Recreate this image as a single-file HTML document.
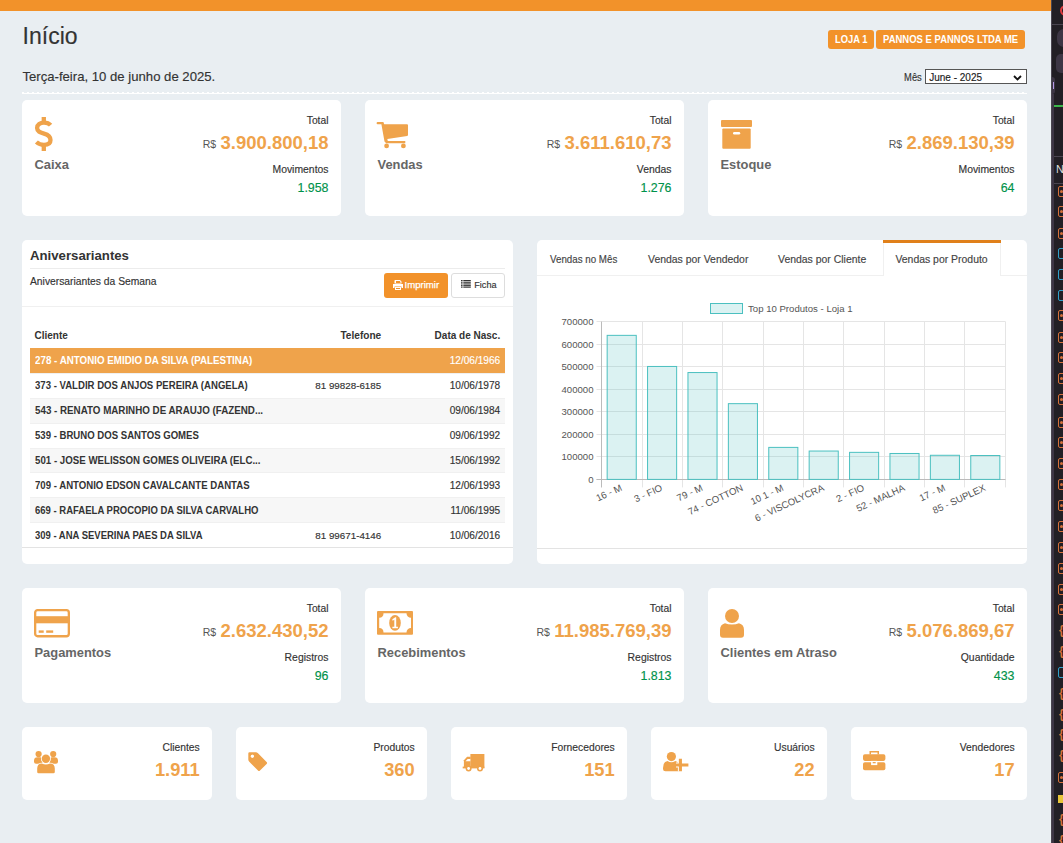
<!DOCTYPE html>
<html><head><meta charset="utf-8"><title>Início</title>
<style>
html,body{margin:0;padding:0;}
body{width:1063px;height:843px;position:relative;overflow:hidden;background:#e9eef2;font-family:"Liberation Sans",sans-serif;}
.t{position:absolute;white-space:nowrap;line-height:1;}
.r{position:absolute;}
</style></head><body>
<div class="r" style="left:0px;top:0px;width:1051px;height:11px;background:#f2922a;"></div>
<div class="t" style="left:22.60px;top:25.33px;font-size:23px;font-weight:400;color:#333;-webkit-text-stroke:0.15px currentColor;">Início</div>
<div class="r" style="left:828px;top:30px;width:46px;height:19px;background:#f2922a;border-radius:3px;"></div>
<div class="r" style="left:876px;top:30px;width:149px;height:19px;background:#f2922a;border-radius:3px;"></div>
<div class="t" style="left:834.60px;top:35.28px;font-size:10.3px;font-weight:700;color:#fff;transform:scaleX(0.91);transform-origin:left center;">LOJA 1</div>
<div class="t" style="left:882.70px;top:35.28px;font-size:10.3px;font-weight:700;color:#fff;transform:scaleX(0.922);transform-origin:left center;">PANNOS E PANNOS LTDA ME</div>
<div class="t" style="left:22.40px;top:70.17px;font-size:13.15px;font-weight:400;color:#333;-webkit-text-stroke:0.15px currentColor;">Terça-feira, 10 de junho de 2025.</div>
<div class="t" style="right:140.90px;top:71.59px;font-size:11px;font-weight:400;color:#333;-webkit-text-stroke:0.15px currentColor;transform:scaleX(0.85);transform-origin:right center;">Mês</div>
<div class="r" style="left:925px;top:69px;width:100px;height:13px;border:1px solid #555;background:#fff"></div>
<div class="t" style="left:929.20px;top:72.63px;font-size:10px;font-weight:400;color:#222;-webkit-text-stroke:0.15px currentColor;">June - 2025</div>
<svg class="r" style="left:1013px;top:75px;overflow:visible" width="9" height="6" viewBox="0 0 9 6"><path d="M1 1 L4.5 4.5 L8 1" fill="none" stroke="#111" stroke-width="1.8"/></svg>
<div class="r" style="left:22px;top:92px;width:1005px;height:1px;background:repeating-linear-gradient(90deg,#fff 0 2px,transparent 2px 5px)"></div>
<div class="r" style="left:22px;top:93px;width:1005px;height:1px;background:#fff;"></div>
<div class="r" style="left:22px;top:100px;width:319px;height:116px;background:#fff;border-radius:5px;"></div>
<div class="t" style="right:734.50px;top:115.68px;font-size:10.3px;font-weight:400;color:#333;-webkit-text-stroke:0.15px currentColor;">Total</div>
<div class="t" style="right:734.50px;top:134.44px;font-size:18.5px;font-weight:700;color:#efa34b"><span style="font-size:10.5px;font-weight:400;color:#555;position:absolute;right:100%;margin-right:4.3px;bottom:3.2px">R$</span>3.900.800,18</div>
<div class="t" style="right:734.50px;top:164.50px;font-size:10.4px;font-weight:400;color:#333;-webkit-text-stroke:0.15px currentColor;">Movimentos</div>
<div class="t" style="right:734.50px;top:181.50px;font-size:12.4px;font-weight:400;color:#00924a;-webkit-text-stroke:0.15px currentColor;">1.958</div>
<div class="t" style="left:34.50px;top:159.48px;font-size:12.9px;font-weight:700;color:#666;">Caixa</div>
<svg class="r" style="left:35px;top:117px;overflow:visible" width="18" height="34" viewBox="0 0 18 34"><g fill="none" stroke="#efa34b" stroke-width="4.3"><path d="M15.6 8.2 C14.2 6.5 12 5.6 9 5.6 C5.2 5.6 2.1 7.5 2.1 11 C2.1 14.5 5 15.5 9 16.6 C13 17.7 15.5 19.2 15.5 23 C15.5 26.6 12.6 27.9 9 27.9 C5.8 27.9 3.3 26.8 1.4 25"/><path d="M8.8 0 V5.5 M8.8 28 V34"/></g></svg>
<div class="r" style="left:365px;top:100px;width:319px;height:116px;background:#fff;border-radius:5px;"></div>
<div class="t" style="right:391.50px;top:115.68px;font-size:10.3px;font-weight:400;color:#333;-webkit-text-stroke:0.15px currentColor;">Total</div>
<div class="t" style="right:391.50px;top:134.44px;font-size:18.5px;font-weight:700;color:#efa34b"><span style="font-size:10.5px;font-weight:400;color:#555;position:absolute;right:100%;margin-right:4.3px;bottom:3.2px">R$</span>3.611.610,73</div>
<div class="t" style="right:391.50px;top:164.50px;font-size:10.4px;font-weight:400;color:#333;-webkit-text-stroke:0.15px currentColor;">Vendas</div>
<div class="t" style="right:391.50px;top:181.50px;font-size:12.4px;font-weight:400;color:#00924a;-webkit-text-stroke:0.15px currentColor;">1.276</div>
<div class="t" style="left:377.50px;top:159.48px;font-size:12.9px;font-weight:700;color:#666;">Vendas</div>
<svg class="r" style="left:377px;top:122px;overflow:visible" width="31" height="26" viewBox="0 0 31 26"><g fill="#efa34b"><path d="M0.6 0 H6.4 L7.2 2.2 H30 Q31 2.2 31 3.2 V13 Q31 13.8 30.2 13.9 L10.3 17 L10.8 18.9 H28.3 V21.2 H9.2 L7.5 19.4 L4.4 2.3 H0.6 Q-0.4 2.3 -0.4 1.15 Q-0.4 0 0.6 0 Z"/><circle cx="9.6" cy="23.9" r="2.4"/><circle cx="26.4" cy="23.9" r="2.4"/></g></svg>
<div class="r" style="left:708px;top:100px;width:319px;height:116px;background:#fff;border-radius:5px;"></div>
<div class="t" style="right:48.50px;top:115.68px;font-size:10.3px;font-weight:400;color:#333;-webkit-text-stroke:0.15px currentColor;">Total</div>
<div class="t" style="right:48.50px;top:134.44px;font-size:18.5px;font-weight:700;color:#efa34b"><span style="font-size:10.5px;font-weight:400;color:#555;position:absolute;right:100%;margin-right:4.3px;bottom:3.2px">R$</span>2.869.130,39</div>
<div class="t" style="right:48.50px;top:164.50px;font-size:10.4px;font-weight:400;color:#333;-webkit-text-stroke:0.15px currentColor;">Movimentos</div>
<div class="t" style="right:48.50px;top:181.50px;font-size:12.4px;font-weight:400;color:#00924a;-webkit-text-stroke:0.15px currentColor;">64</div>
<div class="t" style="left:720.50px;top:159.48px;font-size:12.9px;font-weight:700;color:#666;">Estoque</div>
<svg class="r" style="left:721px;top:119.5px;overflow:visible" width="31" height="29" viewBox="0 0 31 29"><g fill="#efa34b"><rect x="0" y="0" width="31" height="7" rx="1"/><rect x="1.3" y="8.6" width="28.4" height="20.2" rx="1"/></g><rect x="12" y="12" width="7.2" height="2.5" rx="1.2" fill="#fff"/></svg>
<div class="r" style="left:22px;top:588px;width:319px;height:115px;background:#fff;border-radius:5px;"></div>
<div class="t" style="right:734.50px;top:603.68px;font-size:10.3px;font-weight:400;color:#333;-webkit-text-stroke:0.15px currentColor;">Total</div>
<div class="t" style="right:734.50px;top:622.44px;font-size:18.5px;font-weight:700;color:#efa34b"><span style="font-size:10.5px;font-weight:400;color:#555;position:absolute;right:100%;margin-right:4.3px;bottom:3.2px">R$</span>2.632.430,52</div>
<div class="t" style="right:734.50px;top:652.50px;font-size:10.4px;font-weight:400;color:#333;-webkit-text-stroke:0.15px currentColor;">Registros</div>
<div class="t" style="right:734.50px;top:669.50px;font-size:12.4px;font-weight:400;color:#00924a;-webkit-text-stroke:0.15px currentColor;">96</div>
<div class="t" style="left:34.50px;top:647.48px;font-size:12.9px;font-weight:700;color:#666;">Pagamentos</div>
<svg class="r" style="left:34px;top:608.6px;overflow:visible" width="36" height="28.4" viewBox="0 0 36 28.4"><rect x="1.15" y="1.15" width="33.7" height="26.1" rx="2.5" fill="none" stroke="#efa34b" stroke-width="2.3"/><rect x="1" y="7.2" width="34" height="7.1" fill="#efa34b"/><rect x="4.7" y="21.4" width="5" height="2.4" fill="#efa34b"/><rect x="12.2" y="21.4" width="7" height="2.4" fill="#efa34b"/></svg>
<div class="r" style="left:365px;top:588px;width:319px;height:115px;background:#fff;border-radius:5px;"></div>
<div class="t" style="right:391.50px;top:603.68px;font-size:10.3px;font-weight:400;color:#333;-webkit-text-stroke:0.15px currentColor;">Total</div>
<div class="t" style="right:391.50px;top:622.44px;font-size:18.5px;font-weight:700;color:#efa34b"><span style="font-size:10.5px;font-weight:400;color:#555;position:absolute;right:100%;margin-right:4.3px;bottom:3.2px">R$</span>11.985.769,39</div>
<div class="t" style="right:391.50px;top:652.50px;font-size:10.4px;font-weight:400;color:#333;-webkit-text-stroke:0.15px currentColor;">Registros</div>
<div class="t" style="right:391.50px;top:669.50px;font-size:12.4px;font-weight:400;color:#00924a;-webkit-text-stroke:0.15px currentColor;">1.813</div>
<div class="t" style="left:377.50px;top:647.48px;font-size:12.9px;font-weight:700;color:#666;">Recebimentos</div>
<svg class="r" style="left:377px;top:611px;overflow:visible" width="36" height="23.7" viewBox="0 0 36 23.7"><rect x="0" y="0" width="36" height="23.7" rx="1" fill="#efa34b"/><path d="M6.5 2.2 H29.5 A4.5 4.5 0 0 0 34 6.7 V17 A4.5 4.5 0 0 0 29.5 21.5 H6.5 A4.5 4.5 0 0 0 2.2 17 V6.7 A4.5 4.5 0 0 0 6.5 2.2 Z" fill="#fff"/><ellipse cx="18" cy="11.9" rx="5.8" ry="7.9" fill="#efa34b"/><path d="M15.3 8.2 L18.3 6.3 H19.2 V15.8 H20.9 V17.2 H15.4 V15.8 H17.3 V8.7 L15.6 9.7 Z" fill="#fff"/></svg>
<div class="r" style="left:708px;top:588px;width:319px;height:115px;background:#fff;border-radius:5px;"></div>
<div class="t" style="right:48.50px;top:603.68px;font-size:10.3px;font-weight:400;color:#333;-webkit-text-stroke:0.15px currentColor;">Total</div>
<div class="t" style="right:48.50px;top:622.44px;font-size:18.5px;font-weight:700;color:#efa34b"><span style="font-size:10.5px;font-weight:400;color:#555;position:absolute;right:100%;margin-right:4.3px;bottom:3.2px">R$</span>5.076.869,67</div>
<div class="t" style="right:48.50px;top:652.50px;font-size:10.4px;font-weight:400;color:#333;-webkit-text-stroke:0.15px currentColor;">Quantidade</div>
<div class="t" style="right:48.50px;top:669.50px;font-size:12.4px;font-weight:400;color:#00924a;-webkit-text-stroke:0.15px currentColor;">433</div>
<div class="t" style="left:720.50px;top:647.48px;font-size:12.9px;font-weight:700;color:#666;">Clientes em Atraso</div>
<svg class="r" style="left:720px;top:608.6px;overflow:visible" width="24" height="28.8" viewBox="0 0 24 28.8"><g fill="#efa34b"><circle cx="12" cy="7" r="7"/><path d="M5 14.2 Q8 15.6 12 15.6 Q16 15.6 19 14.2 Q24 15.5 24 21 V25.8 Q24 28.8 21 28.8 H3 Q0 28.8 0 25.8 V21 Q0 15.5 5 14.2 Z"/></g></svg>
<div class="r" style="left:22px;top:240px;width:491px;height:324px;background:#fff;border-radius:5px;"></div>
<div class="t" style="left:30.00px;top:249.13px;font-size:13.2px;font-weight:700;color:#333;">Aniversariantes</div>
<div class="r" style="left:30px;top:268px;width:475px;height:1px;background:#ececec;"></div>
<div class="t" style="left:30.00px;top:276.68px;font-size:10.3px;font-weight:400;color:#333;-webkit-text-stroke:0.15px currentColor;">Aniversariantes da Semana</div>
<div class="r" style="left:384px;top:273px;width:64px;height:25px;background:#f2922a;border-radius:3px;"></div>
<div class="t" style="left:404.50px;top:280.07px;font-size:9.6px;font-weight:400;color:#fff;-webkit-text-stroke:0.15px currentColor;-webkit-text-stroke:0.25px #fff;">Imprimir</div>
<svg class="r" style="left:393px;top:280px;overflow:visible" width="10" height="10" viewBox="0 0 10 10"><g fill="#fff"><path d="M2 0 H7 L8.5 1.5 V3.5 H1.5 V0.5 Z M3 1 V3 H7.5 V2 L6.8 1 Z" fill-rule="evenodd"/><path d="M0 4 H10 V8 H8.5 V6.5 H1.5 V8 H0 Z"/><path d="M2 7 H8 V10 H2 Z M3 8 V9 H7 V8 Z" fill-rule="evenodd"/></g></svg>
<div class="r" style="left:451px;top:273px;width:52px;height:23px;border:1px solid #ddd;border-radius:3px;background:#fff"></div>
<div class="t" style="left:474.30px;top:280.50px;font-size:9.1px;font-weight:400;color:#333;-webkit-text-stroke:0.15px currentColor;">Ficha</div>
<svg class="r" style="left:461px;top:280.3px;overflow:visible" width="10" height="8" viewBox="0 0 10 8"><g fill="#333"><rect x="0" y="0" width="1.6" height="1.1"/><rect x="2.3" y="0" width="7.5" height="1.1"/><rect x="0" y="1.7" width="1.6" height="1.1"/><rect x="2.3" y="1.7" width="7.5" height="1.1"/><rect x="0" y="3.4" width="1.6" height="1.1"/><rect x="2.3" y="3.4" width="7.5" height="1.1"/><rect x="0" y="5.1" width="1.6" height="1.1"/><rect x="2.3" y="5.1" width="7.5" height="1.1"/><rect x="0" y="6.6" width="1.6" height="1.1"/><rect x="2.3" y="6.6" width="7.5" height="1.1"/></g></svg>
<div class="r" style="left:22px;top:306px;width:491px;height:1px;background:#f0f0f0;"></div>
<div class="t" style="left:34.50px;top:331.14px;font-size:10px;font-weight:700;color:#333;">Cliente</div>
<div class="t" style="right:681.80px;top:331.05px;font-size:10.1px;font-weight:700;color:#333;">Telefone</div>
<div class="t" style="right:562.80px;top:331.14px;font-size:10px;font-weight:700;color:#333;">Data de Nasc.</div>
<div class="r" style="left:30px;top:348px;width:475px;height:25px;background:#efa34b;"></div>
<div class="t" style="left:34.50px;top:355.78px;font-size:10.3px;font-weight:700;color:#fff;transform:scaleX(0.95);transform-origin:left center;">278 - ANTONIO EMIDIO DA SILVA (PALESTINA)</div>
<div class="t" style="right:562.80px;top:355.95px;font-size:10.1px;font-weight:400;color:#fff;-webkit-text-stroke:0.15px currentColor;">12/06/1966</div>
<div class="r" style="left:30px;top:373px;width:475px;height:1px;background:#f0f0f0;"></div>
<div class="t" style="left:34.50px;top:380.78px;font-size:10.3px;font-weight:700;color:#333;transform:scaleX(0.931);transform-origin:left center;">373 - VALDIR DOS ANJOS PEREIRA (ANGELA)</div>
<div class="t" style="right:681.80px;top:381.20px;font-size:9.8px;font-weight:400;color:#333;-webkit-text-stroke:0.15px currentColor;">81 99828-6185</div>
<div class="t" style="right:562.80px;top:380.95px;font-size:10.1px;font-weight:400;color:#333;-webkit-text-stroke:0.15px currentColor;">10/06/1978</div>
<div class="r" style="left:30px;top:398px;width:475px;height:25px;background:#f7f7f7;"></div>
<div class="r" style="left:30px;top:398px;width:475px;height:1px;background:#f0f0f0;"></div>
<div class="t" style="left:34.50px;top:405.78px;font-size:10.3px;font-weight:700;color:#333;transform:scaleX(0.95);transform-origin:left center;">543 - RENATO MARINHO DE ARAUJO (FAZEND...</div>
<div class="t" style="right:562.80px;top:405.95px;font-size:10.1px;font-weight:400;color:#333;-webkit-text-stroke:0.15px currentColor;">09/06/1984</div>
<div class="r" style="left:30px;top:423px;width:475px;height:1px;background:#f0f0f0;"></div>
<div class="t" style="left:34.50px;top:430.78px;font-size:10.3px;font-weight:700;color:#333;transform:scaleX(0.931);transform-origin:left center;">539 - BRUNO DOS SANTOS GOMES</div>
<div class="t" style="right:562.80px;top:430.95px;font-size:10.1px;font-weight:400;color:#333;-webkit-text-stroke:0.15px currentColor;">09/06/1992</div>
<div class="r" style="left:30px;top:448px;width:475px;height:24px;background:#f7f7f7;"></div>
<div class="r" style="left:30px;top:448px;width:475px;height:1px;background:#f0f0f0;"></div>
<div class="t" style="left:34.50px;top:455.78px;font-size:10.3px;font-weight:700;color:#333;transform:scaleX(0.942);transform-origin:left center;">501 - JOSE WELISSON GOMES OLIVEIRA (ELC...</div>
<div class="t" style="right:562.80px;top:455.95px;font-size:10.1px;font-weight:400;color:#333;-webkit-text-stroke:0.15px currentColor;">15/06/1992</div>
<div class="r" style="left:30px;top:472px;width:475px;height:1px;background:#f0f0f0;"></div>
<div class="t" style="left:34.50px;top:480.78px;font-size:10.3px;font-weight:700;color:#333;transform:scaleX(0.933);transform-origin:left center;">709 - ANTONIO EDSON CAVALCANTE DANTAS</div>
<div class="t" style="right:562.80px;top:480.95px;font-size:10.1px;font-weight:400;color:#333;-webkit-text-stroke:0.15px currentColor;">12/06/1993</div>
<div class="r" style="left:30px;top:497px;width:475px;height:25px;background:#f7f7f7;"></div>
<div class="r" style="left:30px;top:497px;width:475px;height:1px;background:#f0f0f0;"></div>
<div class="t" style="left:34.50px;top:505.78px;font-size:10.3px;font-weight:700;color:#333;transform:scaleX(0.924);transform-origin:left center;">669 - RAFAELA PROCOPIO DA SILVA CARVALHO</div>
<div class="t" style="right:562.80px;top:505.95px;font-size:10.1px;font-weight:400;color:#333;-webkit-text-stroke:0.15px currentColor;">11/06/1995</div>
<div class="r" style="left:30px;top:522px;width:475px;height:1px;background:#f0f0f0;"></div>
<div class="t" style="left:34.50px;top:530.78px;font-size:10.3px;font-weight:700;color:#333;transform:scaleX(0.92);transform-origin:left center;">309 - ANA SEVERINA PAES DA SILVA</div>
<div class="t" style="right:681.80px;top:531.20px;font-size:9.8px;font-weight:400;color:#333;-webkit-text-stroke:0.15px currentColor;">81 99671-4146</div>
<div class="t" style="right:562.80px;top:530.95px;font-size:10.1px;font-weight:400;color:#333;-webkit-text-stroke:0.15px currentColor;">10/06/2016</div>
<div class="r" style="left:22px;top:547px;width:491px;height:1px;background:#e3e3e3;"></div>
<div class="r" style="left:537px;top:240px;width:490px;height:324px;background:#fff;border-radius:5px;"></div>
<div class="r" style="left:537px;top:275px;width:346px;height:1px;background:#f0f0f0;"></div>
<div class="r" style="left:1001px;top:275px;width:26px;height:1px;background:#f0f0f0;"></div>
<div class="r" style="left:883px;top:240px;width:118px;height:3px;background:#e0801a;"></div>
<div class="r" style="left:883px;top:243px;width:1px;height:33px;background:#f0f0f0;"></div>
<div class="r" style="left:1000px;top:243px;width:1px;height:33px;background:#f0f0f0;"></div>
<div class="t" style="left:549.75px;top:254.75px;font-size:10.45px;font-weight:400;color:#444;-webkit-text-stroke:0.15px currentColor;transform:scaleX(0.935);transform-origin:left center;">Vendas no Mês</div>
<div class="t" style="left:648.00px;top:254.75px;font-size:10.45px;font-weight:400;color:#444;-webkit-text-stroke:0.15px currentColor;">Vendas por Vendedor</div>
<div class="t" style="left:778.00px;top:254.75px;font-size:10.45px;font-weight:400;color:#444;-webkit-text-stroke:0.15px currentColor;">Vendas por Cliente</div>
<div class="t" style="left:895.40px;top:254.75px;font-size:10.45px;font-weight:400;color:#444;-webkit-text-stroke:0.15px currentColor;">Vendas por Produto</div>
<div class="r" style="left:537px;top:548px;width:490px;height:1px;background:#e3e3e3;"></div>
<svg class="r" style="left:0;top:0;font-family:'Liberation Sans',sans-serif" width="1063" height="843" viewBox="0 0 1063 843"><line x1="596.5" y1="321.50" x2="1005.5" y2="321.50" stroke="#e5e5e5" stroke-width="1"/><text x="593.5" y="325.00" text-anchor="end" font-size="9.6" fill="#555">700000</text><line x1="596.5" y1="344.50" x2="1005.5" y2="344.50" stroke="#e5e5e5" stroke-width="1"/><text x="593.5" y="347.54" text-anchor="end" font-size="9.6" fill="#555">600000</text><line x1="596.5" y1="366.50" x2="1005.5" y2="366.50" stroke="#e5e5e5" stroke-width="1"/><text x="593.5" y="370.09" text-anchor="end" font-size="9.6" fill="#555">500000</text><line x1="596.5" y1="389.50" x2="1005.5" y2="389.50" stroke="#e5e5e5" stroke-width="1"/><text x="593.5" y="392.63" text-anchor="end" font-size="9.6" fill="#555">400000</text><line x1="596.5" y1="411.50" x2="1005.5" y2="411.50" stroke="#e5e5e5" stroke-width="1"/><text x="593.5" y="415.17" text-anchor="end" font-size="9.6" fill="#555">300000</text><line x1="596.5" y1="434.50" x2="1005.5" y2="434.50" stroke="#e5e5e5" stroke-width="1"/><text x="593.5" y="437.71" text-anchor="end" font-size="9.6" fill="#555">200000</text><line x1="596.5" y1="456.50" x2="1005.5" y2="456.50" stroke="#e5e5e5" stroke-width="1"/><text x="593.5" y="460.26" text-anchor="end" font-size="9.6" fill="#555">100000</text><line x1="596.5" y1="479.50" x2="1005.5" y2="479.50" stroke="#e5e5e5" stroke-width="1"/><text x="593.5" y="482.80" text-anchor="end" font-size="9.6" fill="#555">0</text><line x1="601.50" y1="321.6" x2="601.50" y2="487.4" stroke="#e5e5e5" stroke-width="1"/><line x1="642.50" y1="321.6" x2="642.50" y2="487.4" stroke="#e5e5e5" stroke-width="1"/><line x1="682.50" y1="321.6" x2="682.50" y2="487.4" stroke="#e5e5e5" stroke-width="1"/><line x1="722.50" y1="321.6" x2="722.50" y2="487.4" stroke="#e5e5e5" stroke-width="1"/><line x1="763.50" y1="321.6" x2="763.50" y2="487.4" stroke="#e5e5e5" stroke-width="1"/><line x1="803.50" y1="321.6" x2="803.50" y2="487.4" stroke="#e5e5e5" stroke-width="1"/><line x1="843.50" y1="321.6" x2="843.50" y2="487.4" stroke="#e5e5e5" stroke-width="1"/><line x1="884.50" y1="321.6" x2="884.50" y2="487.4" stroke="#e5e5e5" stroke-width="1"/><line x1="924.50" y1="321.6" x2="924.50" y2="487.4" stroke="#e5e5e5" stroke-width="1"/><line x1="964.50" y1="321.6" x2="964.50" y2="487.4" stroke="#e5e5e5" stroke-width="1"/><line x1="1005.50" y1="321.6" x2="1005.50" y2="487.4" stroke="#e5e5e5" stroke-width="1"/><line x1="601.5" y1="321.6" x2="601.5" y2="487.4" stroke="#bbb" stroke-width="1"/><line x1="596.5" y1="479.5" x2="1005.5" y2="479.5" stroke="#bbb" stroke-width="1"/><rect x="607.16" y="335.35" width="29.09" height="144.05" fill="rgba(75,192,192,0.2)" stroke="rgb(75,192,192)" stroke-width="1"/><text x="622.70" y="490.00" text-anchor="end" font-size="9.6" fill="#555" transform="rotate(-25 622.70 490.00)">16 - M</text><rect x="647.56" y="366.46" width="29.09" height="112.94" fill="rgba(75,192,192,0.2)" stroke="rgb(75,192,192)" stroke-width="1"/><text x="663.10" y="490.00" text-anchor="end" font-size="9.6" fill="#555" transform="rotate(-25 663.10 490.00)">3 - FIO</text><rect x="687.96" y="372.55" width="29.09" height="106.85" fill="rgba(75,192,192,0.2)" stroke="rgb(75,192,192)" stroke-width="1"/><text x="703.50" y="490.00" text-anchor="end" font-size="9.6" fill="#555" transform="rotate(-25 703.50 490.00)">79 - M</text><rect x="728.36" y="403.66" width="29.09" height="75.74" fill="rgba(75,192,192,0.2)" stroke="rgb(75,192,192)" stroke-width="1"/><text x="743.90" y="490.00" text-anchor="end" font-size="9.6" fill="#555" transform="rotate(-25 743.90 490.00)">74 - COTTON</text><rect x="768.76" y="447.39" width="29.09" height="32.01" fill="rgba(75,192,192,0.2)" stroke="rgb(75,192,192)" stroke-width="1"/><text x="784.30" y="490.00" text-anchor="end" font-size="9.6" fill="#555" transform="rotate(-25 784.30 490.00)">10 1 - M</text><rect x="809.16" y="451.04" width="29.09" height="28.36" fill="rgba(75,192,192,0.2)" stroke="rgb(75,192,192)" stroke-width="1"/><text x="824.70" y="490.00" text-anchor="end" font-size="9.6" fill="#555" transform="rotate(-25 824.70 490.00)">6 - VISCOLYCRA</text><rect x="849.56" y="452.35" width="29.09" height="27.05" fill="rgba(75,192,192,0.2)" stroke="rgb(75,192,192)" stroke-width="1"/><text x="865.10" y="490.00" text-anchor="end" font-size="9.6" fill="#555" transform="rotate(-25 865.10 490.00)">2 - FIO</text><rect x="889.96" y="453.48" width="29.09" height="25.92" fill="rgba(75,192,192,0.2)" stroke="rgb(75,192,192)" stroke-width="1"/><text x="905.50" y="490.00" text-anchor="end" font-size="9.6" fill="#555" transform="rotate(-25 905.50 490.00)">52 - MALHA</text><rect x="930.36" y="455.28" width="29.09" height="24.12" fill="rgba(75,192,192,0.2)" stroke="rgb(75,192,192)" stroke-width="1"/><text x="945.90" y="490.00" text-anchor="end" font-size="9.6" fill="#555" transform="rotate(-25 945.90 490.00)">17 - M</text><rect x="970.76" y="455.50" width="29.09" height="23.90" fill="rgba(75,192,192,0.2)" stroke="rgb(75,192,192)" stroke-width="1"/><text x="986.30" y="490.00" text-anchor="end" font-size="9.6" fill="#555" transform="rotate(-25 986.30 490.00)">85 - SUPLEX</text><rect x="710.5" y="303.5" width="32" height="10" fill="rgba(75,192,192,0.2)" stroke="rgb(75,192,192)" stroke-width="1"/><text x="748" y="312.2" font-size="9.6" fill="#555">Top 10 Produtos - Loja 1</text></svg>
<div class="r" style="left:22px;top:727px;width:190px;height:73px;background:#fff;border-radius:5px;"></div>
<div class="t" style="right:863.30px;top:742.78px;font-size:10.3px;font-weight:400;color:#333;-webkit-text-stroke:0.15px currentColor;">Clientes</div>
<div class="t" style="right:863.30px;top:760.81px;font-size:18.3px;font-weight:700;color:#efa34b;">1.911</div>
<svg class="r" style="left:34px;top:750.7px;overflow:visible" width="24" height="22.3" viewBox="0 0 24 22.3"><g fill="#efa34b"><circle cx="4.6" cy="3.1" r="3.1"/><circle cx="19.2" cy="3.1" r="3.1"/><path d="M0 10.8 V9.6 Q0 6.2 3.5 6.2 H6 Q7.5 6.2 8 7 L8.5 12.8 H2 Q0 12.8 0 10.8 Z"/><path d="M24 10.8 V9.6 Q24 6.2 20.5 6.2 H18 Q16.5 6.2 16 7 L15.5 12.8 H22 Q24 12.8 24 10.8 Z"/></g><g fill="#efa34b" stroke="#fff" stroke-width="1.6" paint-order="stroke"><circle cx="11.9" cy="7.7" r="4.2"/><path d="M3.2 20.9 V17.6 Q3.2 12.6 7.8 12.5 Q9.8 13.5 11.9 13.5 Q14 13.5 16 12.5 Q20.8 12.6 20.8 17.6 V20.9 Q20.8 22.3 19.4 22.3 H4.6 Q3.2 22.3 3.2 20.9 Z"/></g></svg>
<div class="r" style="left:236px;top:727px;width:191px;height:73px;background:#fff;border-radius:5px;"></div>
<div class="t" style="right:648.30px;top:742.78px;font-size:10.3px;font-weight:400;color:#333;-webkit-text-stroke:0.15px currentColor;">Produtos</div>
<div class="t" style="right:648.30px;top:760.81px;font-size:18.3px;font-weight:700;color:#efa34b;">360</div>
<svg class="r" style="left:248.3px;top:752px;overflow:visible" width="19.5" height="19.3" viewBox="0 0 19.5 19.3"><path d="M1.5 0.3 H7.8 Q9 0.3 10 1.3 L18.6 9.9 Q19.6 10.9 18.6 11.9 L12 18.5 Q11 19.5 10 18.5 L1.3 9.8 Q0.3 8.8 0.3 7.6 V1.5 Q0.3 0.3 1.5 0.3 Z M4.3 2.8 A1.5 1.5 0 1 0 4.31 2.8 Z" fill="#efa34b" fill-rule="evenodd"/><circle cx="4.4" cy="4.3" r="1.45" fill="#fff"/></svg>
<div class="r" style="left:451px;top:727px;width:176px;height:73px;background:#fff;border-radius:5px;"></div>
<div class="t" style="right:448.30px;top:742.78px;font-size:10.3px;font-weight:400;color:#333;-webkit-text-stroke:0.15px currentColor;">Fornecedores</div>
<div class="t" style="right:448.30px;top:760.81px;font-size:18.3px;font-weight:700;color:#efa34b;">151</div>
<svg class="r" style="left:463.4px;top:754px;overflow:visible" width="22" height="17.5" viewBox="0 0 22 17.5"><g fill="#efa34b"><rect x="7.4" y="0" width="14" height="13.8"/><path d="M0.9 6.2 L4.1 2.8 H7.6 V13.8 H0.9 Z"/><rect x="-0.3" y="12.6" width="21.7" height="1.8"/><circle cx="5.6" cy="14.5" r="3"/><circle cx="17" cy="14.5" r="3"/></g><path d="M2.5 7.3 L4.6 4.9 H7.3 V7.3 Z" fill="#fff"/><circle cx="5.6" cy="14.5" r="1.4" fill="#fff"/><circle cx="17" cy="14.5" r="1.4" fill="#fff"/></svg>
<div class="r" style="left:651px;top:727px;width:176px;height:73px;background:#fff;border-radius:5px;"></div>
<div class="t" style="right:248.30px;top:742.78px;font-size:10.3px;font-weight:400;color:#333;-webkit-text-stroke:0.15px currentColor;">Usuários</div>
<div class="t" style="right:248.30px;top:760.81px;font-size:18.3px;font-weight:700;color:#efa34b;">22</div>
<svg class="r" style="left:663px;top:752.2px;overflow:visible" width="25.4" height="19.3" viewBox="0 0 25.4 19.3"><g fill="#efa34b"><circle cx="8.4" cy="4.6" r="4.6"/><path d="M0 16 Q0 9.5 4.5 9 Q6.5 10.2 8.4 10.2 Q10.3 10.2 12.3 9 Q15.7 9.5 15.7 13 V19.3 H2.5 Q0 19.3 0 17 Z"/></g><path d="M17.4 6.8 V19.3 M13 13 H25.4" stroke="#fff" stroke-width="5"/><path d="M17.4 6.8 V19.3 M12.9 13 H25.4" stroke="#efa34b" stroke-width="3.1"/></svg>
<div class="r" style="left:851px;top:727px;width:176px;height:73px;background:#fff;border-radius:5px;"></div>
<div class="t" style="right:48.30px;top:742.78px;font-size:10.3px;font-weight:400;color:#333;-webkit-text-stroke:0.15px currentColor;">Vendedores</div>
<div class="t" style="right:48.30px;top:760.81px;font-size:18.3px;font-weight:700;color:#efa34b;">17</div>
<svg class="r" style="left:863px;top:750.7px;overflow:visible" width="22.4" height="19.3" viewBox="0 0 22.4 19.3"><g fill="#efa34b"><path d="M6.5 0 H16 V3.5 H14.5 V1.4 H8 V3.5 H6.5 Z"/><rect x="0" y="3.3" width="22.4" height="6.6" rx="1.8"/><rect x="0" y="11.3" width="22.4" height="8" rx="1.8"/></g><rect x="8.1" y="9.9" width="6.2" height="4.2" fill="#fff"/><rect x="9.7" y="11" width="3" height="1.3" fill="#efa34b"/></svg>
<div class="r" style="left:1051px;top:0;width:12px;height:843px;background:#221f25"></div><div class="r" style="left:1051px;top:0;width:1px;height:843px;background:#4a4550"></div><div class="r" style="left:1060px;top:5px;width:12px;height:11px;border:2px solid #e0393e;border-radius:50%;box-sizing:border-box"></div><div class="r" style="left:1052px;top:24px;width:11px;height:1px;background:#4a4550"></div><div class="r" style="left:1057px;top:29px;width:14px;height:18px;background:#3d3645;border-radius:8px"></div><div class="r" style="left:1056px;top:54px;width:14px;height:19px;background:#3d3645;border-radius:5px"></div><div class="r" style="left:1052px;top:77px;width:3px;height:17px;background:#3d3645;border-radius:0 3px 3px 0"></div><div class="r" style="left:1053px;top:82px;width:1px;height:7px;background:#b79ae8"></div><div class="r" style="left:1052px;top:94px;width:2px;height:749px;background:#3d3645"></div><div class="r" style="left:1054px;top:105px;width:9px;height:2px;background:#3bb54a"></div><div class="r" style="left:1054px;top:156px;width:9px;height:28px;border-top:1px solid #4a4550;border-bottom:1px solid #4a4550;box-sizing:border-box"></div><div class="r" style="left:1056px;top:164px;width:7px;height:10px;color:#ddd;font-size:11px;line-height:10px;font-family:'Liberation Sans'">N</div><div class="r" style="left:1058px;top:185.7px;width:8px;height:11px;border:1.5px solid #d4703a;border-radius:2px;box-sizing:border-box"></div><div class="r" style="left:1060px;top:189.7px;width:3px;height:3px;background:#d4703a;border-radius:50%"></div><div class="r" style="left:1058px;top:206.3px;width:8px;height:11px;border:1.5px solid #d4703a;border-radius:2px;box-sizing:border-box"></div><div class="r" style="left:1060px;top:210.3px;width:3px;height:3px;background:#d4703a;border-radius:50%"></div><div class="r" style="left:1058px;top:227.7px;width:8px;height:11px;border:1.5px solid #d4703a;border-radius:2px;box-sizing:border-box"></div><div class="r" style="left:1060px;top:231.7px;width:3px;height:3px;background:#d4703a;border-radius:50%"></div><div class="r" style="left:1058px;top:248.0px;width:8px;height:11px;border:1.5px solid #2f9fc9;border-radius:2px;box-sizing:border-box"></div><div class="r" style="left:1058px;top:269.3px;width:8px;height:11px;border:1.5px solid #2f9fc9;border-radius:2px;box-sizing:border-box"></div><div class="r" style="left:1058px;top:289.9px;width:8px;height:11px;border:1.5px solid #2f9fc9;border-radius:2px;box-sizing:border-box"></div><div class="r" style="left:1058px;top:310.2px;width:8px;height:11px;border:1.5px solid #d4703a;border-radius:2px;box-sizing:border-box"></div><div class="r" style="left:1060px;top:314.2px;width:3px;height:3px;background:#d4703a;border-radius:50%"></div><div class="r" style="left:1058px;top:331.6px;width:8px;height:11px;border:1.5px solid #d4703a;border-radius:2px;box-sizing:border-box"></div><div class="r" style="left:1060px;top:335.6px;width:3px;height:3px;background:#d4703a;border-radius:50%"></div><div class="r" style="left:1058px;top:352.2px;width:8px;height:11px;border:1.5px solid #d4703a;border-radius:2px;box-sizing:border-box"></div><div class="r" style="left:1060px;top:356.2px;width:3px;height:3px;background:#d4703a;border-radius:50%"></div><div class="r" style="left:1058px;top:373.2px;width:8px;height:11px;border:1.5px solid #d4703a;border-radius:2px;box-sizing:border-box"></div><div class="r" style="left:1060px;top:377.2px;width:3px;height:3px;background:#d4703a;border-radius:50%"></div><div class="r" style="left:1058px;top:393.9px;width:8px;height:11px;border:1.5px solid #d4703a;border-radius:2px;box-sizing:border-box"></div><div class="r" style="left:1060px;top:397.9px;width:3px;height:3px;background:#d4703a;border-radius:50%"></div><div class="r" style="left:1058px;top:417.0px;width:8px;height:11px;border:1.5px solid #d4703a;border-radius:2px;box-sizing:border-box"></div><div class="r" style="left:1060px;top:421.0px;width:3px;height:3px;background:#d4703a;border-radius:50%"></div><div class="r" style="left:1058px;top:437.1px;width:8px;height:11px;border:1.5px solid #d4703a;border-radius:2px;box-sizing:border-box"></div><div class="r" style="left:1060px;top:441.1px;width:3px;height:3px;background:#d4703a;border-radius:50%"></div><div class="r" style="left:1058px;top:458.2px;width:8px;height:11px;border:1.5px solid #d4703a;border-radius:2px;box-sizing:border-box"></div><div class="r" style="left:1060px;top:462.2px;width:3px;height:3px;background:#d4703a;border-radius:50%"></div><div class="r" style="left:1058px;top:478.7px;width:8px;height:11px;border:1.5px solid #d4703a;border-radius:2px;box-sizing:border-box"></div><div class="r" style="left:1060px;top:482.7px;width:3px;height:3px;background:#d4703a;border-radius:50%"></div><div class="r" style="left:1058px;top:499.8px;width:8px;height:11px;border:1.5px solid #d4703a;border-radius:2px;box-sizing:border-box"></div><div class="r" style="left:1060px;top:503.8px;width:3px;height:3px;background:#d4703a;border-radius:50%"></div><div class="r" style="left:1058px;top:520.9px;width:8px;height:11px;border:1.5px solid #d4703a;border-radius:2px;box-sizing:border-box"></div><div class="r" style="left:1060px;top:524.9px;width:3px;height:3px;background:#d4703a;border-radius:50%"></div><div class="r" style="left:1058px;top:541.5px;width:8px;height:11px;border:1.5px solid #d4703a;border-radius:2px;box-sizing:border-box"></div><div class="r" style="left:1060px;top:545.5px;width:3px;height:3px;background:#d4703a;border-radius:50%"></div><div class="r" style="left:1058px;top:562.5px;width:8px;height:11px;border:1.5px solid #d4703a;border-radius:2px;box-sizing:border-box"></div><div class="r" style="left:1060px;top:566.5px;width:3px;height:3px;background:#d4703a;border-radius:50%"></div><div class="r" style="left:1058px;top:583.5px;width:8px;height:11px;border:1.5px solid #d4703a;border-radius:2px;box-sizing:border-box"></div><div class="r" style="left:1060px;top:587.5px;width:3px;height:3px;background:#d4703a;border-radius:50%"></div><div class="r" style="left:1058px;top:604.2px;width:8px;height:11px;border:1.5px solid #d4703a;border-radius:2px;box-sizing:border-box"></div><div class="r" style="left:1060px;top:608.2px;width:3px;height:3px;background:#d4703a;border-radius:50%"></div><div class="r" style="left:1058px;top:624.7px;width:6px;height:12px;color:#d4703a;font-size:12px;line-height:12px;font-weight:700;font-family:'Liberation Mono'">{</div><div class="r" style="left:1058px;top:645.8px;width:6px;height:12px;color:#d4703a;font-size:12px;line-height:12px;font-weight:700;font-family:'Liberation Mono'">{</div><div class="r" style="left:1058px;top:666.9px;width:8px;height:11px;border:1.5px solid #2f9fc9;border-radius:2px;box-sizing:border-box"></div><div class="r" style="left:1058px;top:687.5px;width:6px;height:12px;color:#d4703a;font-size:12px;line-height:12px;font-weight:700;font-family:'Liberation Mono'">{</div><div class="r" style="left:1058px;top:708.5px;width:6px;height:12px;color:#d4703a;font-size:12px;line-height:12px;font-weight:700;font-family:'Liberation Mono'">{</div><div class="r" style="left:1058px;top:729.1px;width:6px;height:12px;color:#d4703a;font-size:12px;line-height:12px;font-weight:700;font-family:'Liberation Mono'">{</div><div class="r" style="left:1058px;top:750.2px;width:6px;height:12px;color:#d4703a;font-size:12px;line-height:12px;font-weight:700;font-family:'Liberation Mono'">{</div><div class="r" style="left:1058px;top:771.7px;width:8px;height:11px;border:1.5px solid #d4703a;border-radius:2px;box-sizing:border-box"></div><div class="r" style="left:1060px;top:775.7px;width:3px;height:3px;background:#d4703a;border-radius:50%"></div><div class="r" style="left:1058px;top:794.8px;width:6px;height:8px;background:#e8c53a"></div><div class="r" style="left:1058px;top:813.9px;width:6px;height:12px;color:#d4703a;font-size:12px;line-height:12px;font-weight:700;font-family:'Liberation Mono'">{</div><div class="r" style="left:1058px;top:834.5px;width:6px;height:12px;color:#d4703a;font-size:12px;line-height:12px;font-weight:700;font-family:'Liberation Mono'">{</div>
</body></html>
